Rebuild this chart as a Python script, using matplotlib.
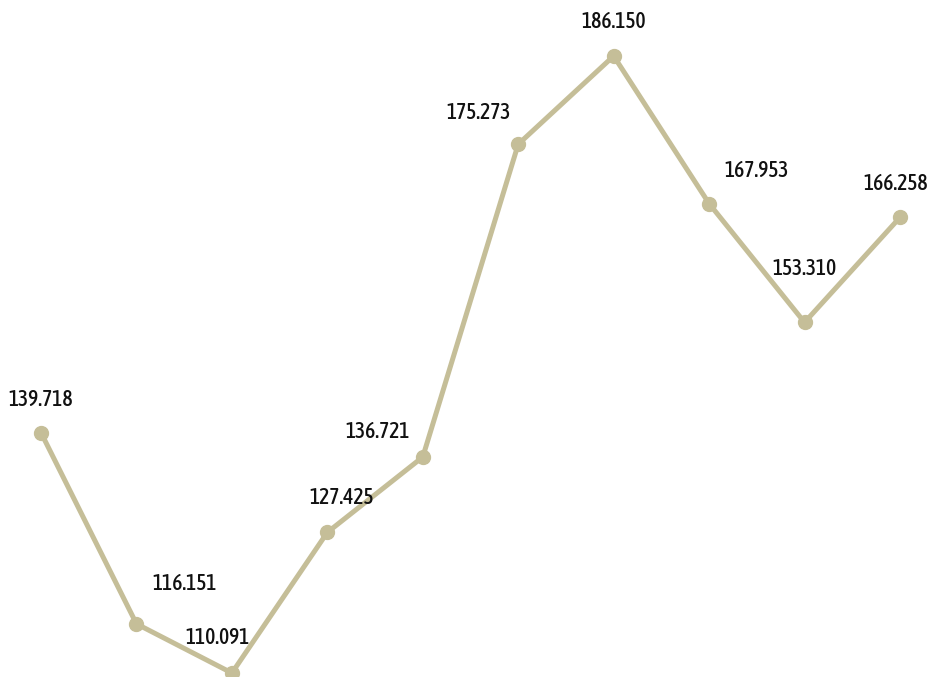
import matplotlib
matplotlib.use("Agg")
import matplotlib.pyplot as plt
from matplotlib import font_manager as fm

values = [139.718, 116.151, 110.091, 127.425, 136.721, 175.273, 186.150, 167.953, 153.310, 166.258]
labels = ["139.718", "116.151", "110.091", "127.425", "136.721", "175.273", "186.150", "167.953", "153.310", "166.258"]

# label offsets in pixels (dx, dy) relative to each point (layout only)
label_offsets = [(0, 33), (48, 40), (-14, 35), (14, 34), (-45, 25),
                 (-40, 31), (0, 34), (48, 33), (0, 53), (-4, 33)]

line_color = "#C5BE98"

# find a condensed / narrow font if one is installed
cands = []
for f in fm.fontManager.ttflist:
    n = (f.name + " " + f.fname).lower()
    if ("narrow" in n or "condensed" in n or f.stretch in ("condensed", "semi-condensed")) \
            and "oblique" not in n and "italic" not in n and f.style == "normal":
        cands.append(f)
def rank(f):
    w = f.weight if isinstance(f.weight, int) else 400
    return (abs(w - 550), 0 if "narrow" in f.fname.lower() else 1)
if cands:
    cands.sort(key=rank)
    font_prop = fm.FontProperties(fname=cands[0].fname, size=15.5)
else:
    font_prop = fm.FontProperties(family="DejaVu Sans", stretch="condensed", size=15)

fig = plt.figure(figsize=(9.33, 6.77), dpi=100)
ax = fig.add_axes([0, 0, 1, 1])
x = list(range(len(values)))
ax.plot(x, values, color=line_color, linewidth=3.6, marker="o", markersize=10,
        solid_capstyle="round", clip_on=True)
ax.set_xlim(-0.4296, 9.3458)
ax.set_ylim(109.598, 193.053)
ax.axis("off")

for xi, v, lab, (dx, dy) in zip(x, values, labels, label_offsets):
    ax.annotate(lab, (xi, v), xytext=(dx, dy), textcoords="offset pixels",
                ha="center", va="center", fontproperties=font_prop, color="#111111")

fig.savefig("out.png", dpi=100)
